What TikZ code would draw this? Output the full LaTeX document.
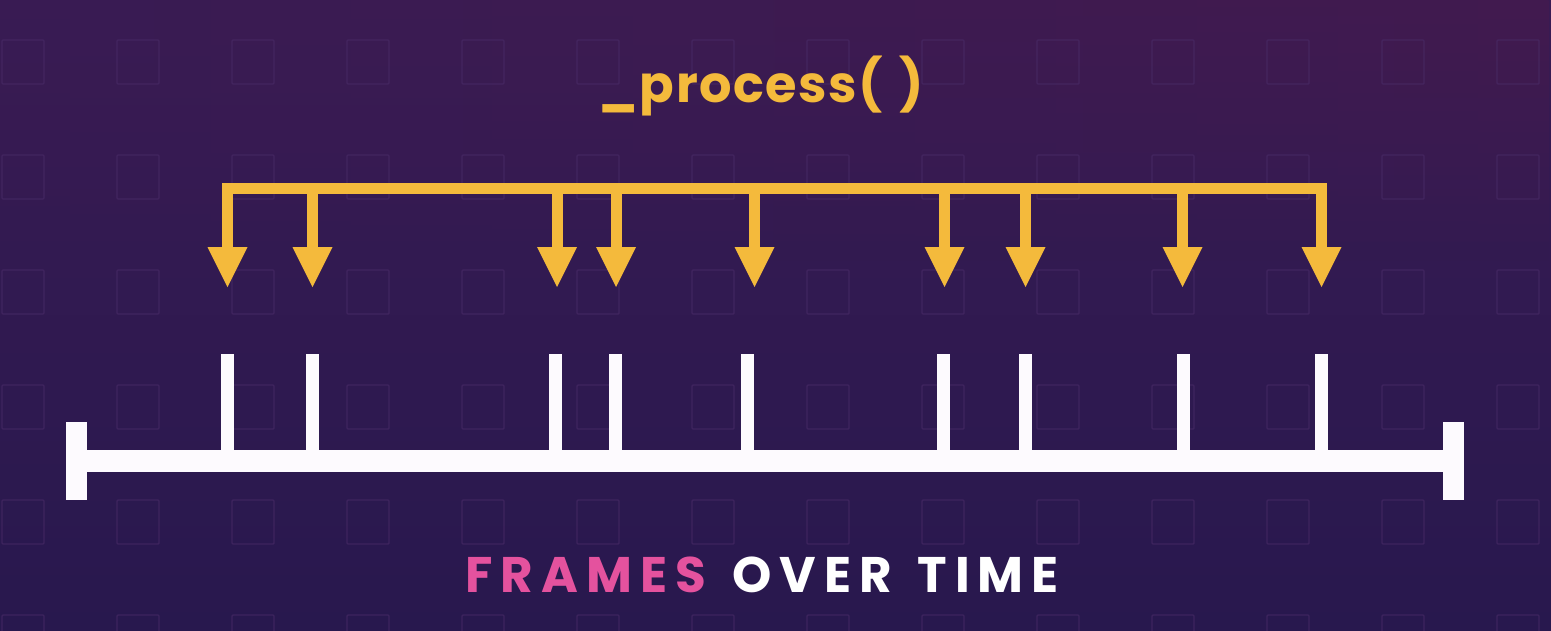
\documentclass[tikz,border=0pt]{standalone}
\usepackage{fontspec}
\setmainfont{Poppins}
\usetikzlibrary{calc,fadings}
\definecolor{bgtop}{HTML}{391B53}
\definecolor{bgbot}{HTML}{28184E}
\definecolor{bgred}{HTML}{441A4E}
\definecolor{gridc}{HTML}{4A2C68}
\definecolor{yel}{HTML}{F4BA3C}
\definecolor{pinkc}{HTML}{E4529E}
\definecolor{tline}{HTML}{FDFAFE}
\tikzset{
  gridsq/.style={draw=gridc, line width=1.4pt, rounded corners=1pt, opacity=0.6},
  yfill/.style={fill=yel},
  wfill/.style={fill=tline},
  titletext/.style={text=yel, inner sep=0pt, font=\fontsize{51}{56}\selectfont\bfseries\addfontfeature{LetterSpace=3}},
  bottext/.style={inner sep=0pt, font=\fontsize{50}{54}\selectfont\bfseries\addfontfeature{LetterSpace=16}}
}
\begin{document}
\begin{tikzpicture}[x=1pt,y=-1pt]
\useasboundingbox (0,0) rectangle (1551,630);
% background
\shade[top color=bgtop, bottom color=bgbot] (0,0) rectangle (1551,630);
\shade[left color=bgtop, right color=bgred, path fading=south, opacity=0.8] (0,0) rectangle (1551,260);
% faint grid of squares
\foreach \i in {0,...,13}{
  \foreach \j in {0,...,5}{
    \draw[gridsq] ({2+115*\i},{40+115*\j}) rectangle ({44+115*\i},{84+115*\j});
  }
}
% title
\node[titletext] (title) at (761,86) {\_process(\hspace{16pt})};
% arrows: top bar
\coordinate (barL) at (222,188.5);
\coordinate (barR) at (1327,188.5);
\fill[yfill] ($(barL)+(0,-5.5)$) rectangle ($(barR)+(0,5.5)$);
\foreach \x [count=\n] in {227.5,312.5,557,616,754.5,944.5,1025.5,1182.5,1321.5}{
  \coordinate (a\n) at (\x,188);
  \coordinate (t\n) at (\x,287);
  \fill[yfill] ($(a\n)+(-5.5,0)$) rectangle ($(t\n)+(5.5,-39)$);
  \fill[yfill] ($(t\n)+(-20,-40)$) -- ($(t\n)+(20,-40)$) -- (t\n) -- cycle;
}
% timeline
\coordinate (lineL) at (66,461);
\coordinate (lineR) at (1464,461);
\fill[wfill] ($(lineL)+(0,-11)$) rectangle ($(lineR)+(0,11)$);
\fill[wfill] ($(lineL)+(0,-39)$) rectangle ($(lineL)+(21,39)$);
\fill[wfill] ($(lineR)+(-21,-39)$) rectangle ($(lineR)+(0,39)$);
\foreach \x [count=\n] in {227.5,312,555,615,747,943.5,1025,1183,1321.5}{
  \coordinate (k\n) at (\x,354);
  \fill[wfill] ($(k\n)+(-6.5,0)$) rectangle ($(k\n)+(6.5,101)$);
}
% bottom label
\node[bottext] (label) at (762,575) {\textcolor{pinkc}{FRAMES}\hspace{8pt} \textcolor{white}{OVER\hspace{7pt} TIME}};
\end{tikzpicture}
\end{document}
